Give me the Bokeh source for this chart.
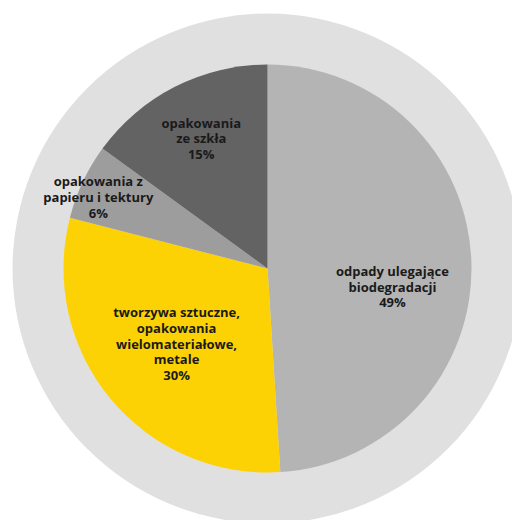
import math
from bokeh.plotting import figure
from bokeh.models import ColumnDataSource, Range1d
from bokeh.core.properties import value
from bokeh.embed import file_html
from bokeh.resources import INLINE

# ---- data ----
categories = [
    "odpady ulegające\nbiodegradacji",
    "tworzywa sztuczne,\nopakowania\nwielomateriałowe,\nmetale",
    "opakowania z\npapieru i tektury",
    "opakowania\nze szkła",
]
shares = [49, 30, 6, 15]
colors = ["#b4b4b4", "#fdd205", "#9d9d9d", "#636363"]

# ---- layout / style ----
W, H = 512, 520
CX, CY = 267, 252
R_PIE = 204
R_BG = 255
label_r = [125, 118, 187, 146]
label_dy = [-22, 0, -8, 0]

total = float(sum(shares))
starts, ends, lx, ly, texts = [], [], [], [], []
cum = 0.0
for i, s in enumerate(shares):
    a0 = cum / total
    cum += s
    a1 = cum / total
    starts.append(math.pi / 2 - 2 * math.pi * a0)
    ends.append(math.pi / 2 - 2 * math.pi * a1)
    mid = 2 * math.pi * (a0 + a1) / 2
    lx.append(CX + label_r[i] * math.sin(mid))
    ly.append(CY + label_r[i] * math.cos(mid) + label_dy[i])
    texts.append(f"{categories[i]}\n{s}%")

src = ColumnDataSource(dict(
    x=[CX] * len(shares), y=[CY] * len(shares),
    start=starts, end=ends, color=colors,
    lx=lx, ly=ly, text=texts,
))

p = figure(width=W, height=H, output_backend="svg", toolbar_location=None,
           x_range=Range1d(0, W), y_range=Range1d(0, H), min_border=0)
p.axis.visible = False
p.grid.visible = False
p.outline_line_color = None
p.background_fill_color = "white"
p.border_fill_color = "white"

p.circle(x=[CX], y=[CY], radius=R_BG, fill_color="#e0e0e0", line_color=None)
p.wedge(x="x", y="y", radius=R_PIE, start_angle="start", end_angle="end",
        direction="clock", fill_color="color", line_color=None, source=src)
p.text(x="lx", y="ly", text="text", source=src,
       text_font=value("Open Sans"), text_font_style="bold",
       text_font_size="13px", text_align="center", text_baseline="middle",
       text_color="#1a1a1a", text_line_height=0.87)

open("out.html", "w").write(file_html(p, INLINE))
